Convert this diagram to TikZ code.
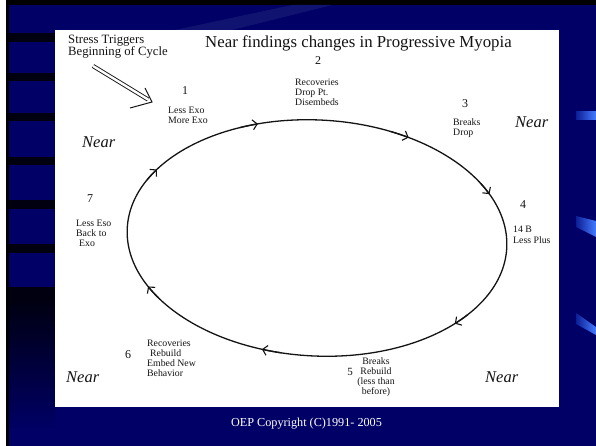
\documentclass[tikz,border=0pt]{standalone}
\usepackage{fontspec}
\setmainfont{Liberation Serif}
\usetikzlibrary{arrows.meta}
\definecolor{navy}{RGB}{0,0,102}
\definecolor{barblack}{RGB}{0,0,16}
\definecolor{sweep}{RGB}{16,20,112}
\definecolor{barlight}{RGB}{70,125,255}
\definecolor{bardark}{RGB}{12,30,150}
\definecolor{ink}{RGB}{20,20,20}
\begin{document}
\begin{tikzpicture}[x=1pt,y=-1pt,
  lbl/.style={inner sep=0pt, align=left, anchor=base west, text=ink, font=\fontsize{9.8}{10}\selectfont},
  num/.style={inner sep=0pt, anchor=base, text=ink, font=\fontsize{12}{12}\selectfont},
  nearlbl/.style={inner sep=0pt, anchor=base west, text=ink, font=\fontsize{16.5}{18}\selectfont\itshape},
  cyc/.style={draw=ink, line width=1.3pt},
  tip/.style={draw=ink, line width=1.3pt, -{Straight Barb[length=4.5pt,width=10pt,line width=1.1pt]}},
  leftbar/.style={fill=barblack},
  bluebar/.style={left color=bardark, right color=barlight},
]
\useasboundingbox (0,0) rectangle (596,446);

% slide background
\fill[navy] (0,0) rectangle (596,446);
\fill[white] (0,0) rectangle (6,446);
\fill[black] (6,0) rectangle (9,446);
\fill[black] (6,0) rectangle (596,5);
\fill[sweep] (175,30) -- (232,30) -- (332,5) -- (292,5) -- cycle;

% dark bars on the left edge
\foreach \ya/\yb in {33/42, 73/81, 113/121, 157/165, 200/209, 244/253, 287/298}
  \fill[leftbar] (9,\ya) rectangle (55,\yb);
\shade[top color=barblack, bottom color=navy] (9,298) rectangle (55,430);

% blue accents on the right edge
\shade[bluebar] (576,112) rectangle (596,120);
\shade[bluebar] (576,216) -- (596,221) -- (596,237) -- (576,227) -- cycle;
\shade[bluebar] (576,313) -- (596,327) -- (596,335) -- (576,324) -- cycle;

% white panel
\fill[white] (55,30) rectangle (559,407);

% headings (multi-line nodes sit on their last baseline)
\node[inner sep=0pt, anchor=base west, align=left, text=ink, font=\fontsize{12.7}{12}\selectfont] (stress) at (68,56) {Stress Triggers\\Beginning of Cycle};
\node[inner sep=0pt, anchor=base west, text=ink, font=\fontsize{16.8}{20}\selectfont] (title) at (205,48) {Near findings changes in Progressive Myopia};

% trigger arrow
\coordinate (sA) at (93,66);
\coordinate (sB) at (148,99.5);
\coordinate (sT) at (152,102);
\coordinate (sW1) at (145,88);
\coordinate (sW2) at (130,108);
\draw[draw=ink, line width=0.9pt, double distance=2.4pt] (sA) -- (sB);
\draw[draw=ink, line width=1pt] (sW1) -- (sT) -- (sW2);

% the cycle
\begin{scope}[shift={(317,238)}, rotate=-3]
  \draw[cyc] (0,0) ellipse [x radius=190, y radius=118];
  \foreach \a in {-110,-63,-26.6,41.6,105,151,210.6}
    \draw[tip] (\a-6:190 and 118) arc [start angle=\a-6, end angle=\a, x radius=190, y radius=118];
\end{scope}

% stages
\node[num] (n1) at (185,95) {1};
\node[lbl] (l1) at (168,123.5) {Less Exo\\More Exo};
\node[num] (n2) at (318,65) {2};
\node[lbl] (l2) at (295,106) {Recoveries\\Drop Pt.\\Disembeds};
\node[num] (n3) at (465,108) {3};
\node[lbl] (l3) at (453,136) {Breaks\\Drop};
\node[num] (n4) at (523,209) {4};
\node[lbl] (l4) at (513,243) {14 B\\Less Plus};
\node[num, font=\fontsize{11}{11}\selectfont] (n5) at (350,375) {5};
\node[lbl, align=center, anchor=base] (l5) at (376,394) {Breaks\\Rebuild\\(less than\\before)};
\node[num] (n6) at (128,358) {6};
\node[lbl] (l6) at (147,376) {Recoveries\\\hspace*{0.3em}Rebuild\\Embed New\\Behavior};
\node[num] (n7) at (90,203) {7};
\node[lbl] (l7) at (76,246) {Less Eso\\Back to\\\hspace*{0.3em}Exo};

% near labels
\node[nearlbl] (nearA) at (82,148) {Near};
\node[nearlbl] (nearB) at (515,128) {Near};
\node[nearlbl] (nearC) at (66,382) {Near};
\node[nearlbl] (nearD) at (485,382) {Near};

% footer
\node[inner sep=0pt, anchor=base, text=white, font=\fontsize{12.2}{14}\selectfont] (copy) at (306.5,426) {OEP Copyright (C)1991- 2005};
\end{tikzpicture}
\end{document}
